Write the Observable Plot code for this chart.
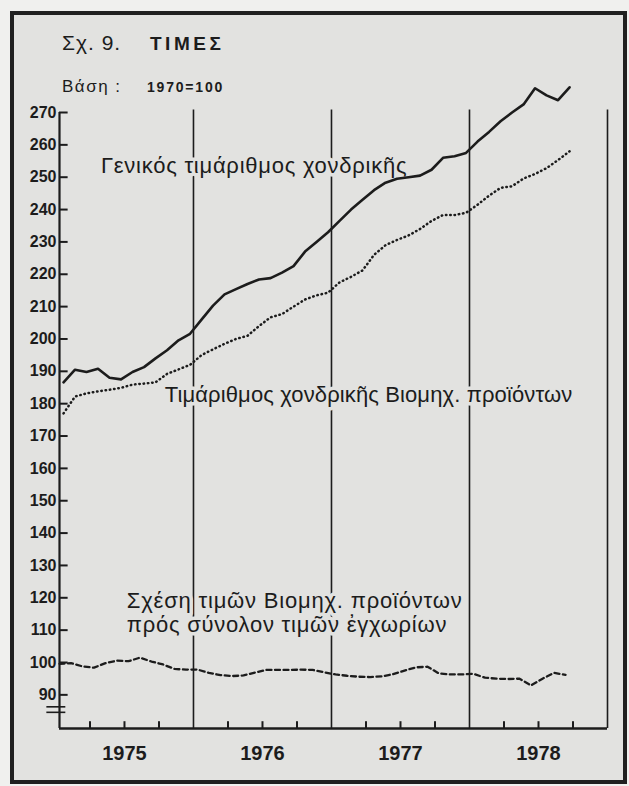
<!DOCTYPE html>
<html>
<head>
<meta charset="utf-8">
<script src="https://cdn.jsdelivr.net/npm/d3@7"></script>
<script src="https://cdn.jsdelivr.net/npm/@observablehq/plot@0.6"></script>
<style>
  html, body { margin: 0; padding: 0; background: #f0f0ee; }
  #wrap { position: relative; width: 629px; height: 786px; overflow: hidden;
          font-family: "Liberation Sans", "DejaVu Sans", sans-serif; color: #1c1c1c; }
  #frame { position: absolute; left: 10px; top: 11px; width: 609px; height: 765px;
           border: 4px solid #202020; background: #e2e2e0; }
  .t { position: absolute; white-space: nowrap; line-height: 1; }
  #chart { position: absolute; left: 0; top: 0; }
</style>
</head>
<body>
<div id="wrap">
  <div id="frame"></div>
  <div class="t" style="left:62px; top:32px; font-size:21px; letter-spacing:1px;">Σχ. 9.</div>
  <div class="t" style="left:150px; top:34px; font-size:19px; font-weight:bold; letter-spacing:3.5px;">ΤΙΜΕΣ</div>
  <div class="t" style="left:62px; top:78px; font-size:17px; letter-spacing:1.5px;">Βάση :</div>
  <div class="t" style="left:147px; top:80px; font-size:14px; font-weight:bold; letter-spacing:1.8px;">1970=100</div>
  <div id="chart"></div>
</div>
<script>
// ---- Data (monthly, Jan 1975 – Sep 1978) ----
const general = [186.6,190.5,189.8,190.8,188,187.5,189.8,191.3,194,196.5,199.6,201.6,
                 206,210.3,213.8,215.4,217,218.4,218.8,220.5,222.5,227,230,233,
                 236.5,240,243,246,248.3,249.5,250,250.5,252.3,256,256.5,257.5,
                 261,264,267.3,270,272.5,277.5,275.3,273.8,277.8];
const industrial = [177,182.2,183.2,183.8,184.3,184.9,185.9,186.2,186.6,189.2,190.6,192,
                    195,196.8,198.5,200,201,204,206.7,207.7,210,212.2,213.5,214.3,
                    217.5,219.2,221.2,226,229,230.6,232,234,236.5,238.3,238.3,239,
                    241.5,244.3,246.7,247.2,249.6,251,252.8,255.3,258];
const relation = [99.6,99.8,98.8,98.4,99.8,100.6,100.4,101.5,100.3,99.4,98.0,97.8,
                  97.8,96.8,96.1,95.8,96.0,96.9,97.7,97.7,97.7,97.8,97.7,97.0,
                  96.3,95.9,95.6,95.5,95.7,96.4,97.5,98.5,98.7,96.6,96.3,96.3,
                  96.5,95.3,95.0,94.9,95.0,92.9,95.0,96.8,96.2];
const years = ["1975", "1976", "1977", "1978"];
const yTicks = [90,100,110,120,130,140,150,160,170,180,190,200,210,220,230,240,250,260,270];
const yearBounds = [12, 24, 36, 48];
const quarterTicks = [3,6,9,15,18,21,27,30,33,39,42,45];
const labelGeneral = "Γενικός τιμάριθμος χονδρικῆς";
const labelIndustrial = "Τιμάριθμος χονδρικῆς Βιομηχ. προϊόντων";
const labelRelation1 = "Σχέση τιμῶν Βιομηχ. προϊόντων";
const labelRelation2 = "πρός σύνολον τιμῶν ἐγχωρίων";

// ---- Chart ----
const ink = "#1c1c1c";
const bg = "#e2e2e0";
const xMin = 0.35, xMax = 48;
const yMin = 79.6, yMax = 270;
const annot = {textAnchor: "start", lineAnchor: "bottom", fontSize: 22, fill: ink,
               stroke: bg, strokeWidth: 7, paintOrder: "stroke"};

const chart = Plot.plot({
  width: 629, height: 786,
  marginLeft: 59, marginRight: 22, marginTop: 112, marginBottom: 58,
  x: {domain: [xMin, xMax], axis: null},
  y: {domain: [yMin, yMax], axis: null},
  style: {background: "transparent", color: ink, overflow: "visible",
          fontFamily: "'Liberation Sans', 'DejaVu Sans', sans-serif"},
  marks: [
    Plot.ruleX(yearBounds, {x: d => d, y1: yMin, y2: 270.8, stroke: ink, strokeWidth: 1.6}),
    Plot.ruleX([xMin], {x: d => d, y1: yMin, y2: yMax, stroke: ink, strokeWidth: 2.2}),
    Plot.ruleY([yMin], {y: d => d, x1: xMin, x2: xMax, stroke: ink, strokeWidth: 2.4}),
    Plot.ruleY(yTicks, {y: d => d, x1: xMin, x2: xMin + 0.75, stroke: ink, strokeWidth: 2}),
    Plot.ruleY([86.3, 84.6], {y: d => d, x1: xMin - 1.1, x2: xMin + 0.55, stroke: ink, strokeWidth: 1.6}),
    Plot.ruleX(quarterTicks, {x: d => d, y1: yMin, y2: yMin + 2.1, stroke: ink, strokeWidth: 2}),
    Plot.text(yTicks, {x: xMin, y: d => d, text: d => String(d), textAnchor: "end", dx: -3,
                       fontWeight: "bold", fontSize: 16, fill: ink}),
    Plot.text(years, {x: (d, i) => 6 + 12 * i, y: yMin, text: d => d, dy: 31, lineAnchor: "bottom",
                      fontWeight: "bold", fontSize: 20, fill: ink}),
    Plot.text([labelGeneral], {...annot, x: 3.95, y: 251.4, text: d => d}),
    Plot.text([labelIndustrial], {...annot, x: 9.5, y: 180.4, text: d => d}),
    Plot.text([labelRelation1], {...annot, x: 6.2, y: 117.0, text: d => d}),
    Plot.text([labelRelation2], {...annot, x: 6.2, y: 109.3, text: d => d}),
    Plot.line(general, {x: (d, i) => i + 0.7, y: d => d, stroke: ink, strokeWidth: 2.6,
                        strokeLinejoin: "round", strokeLinecap: "round"}),
    Plot.line(industrial, {x: (d, i) => i + 0.7, y: d => d, stroke: ink, strokeWidth: 2.5,
                           strokeDasharray: "0.5 3.8", strokeLinecap: "round"}),
    Plot.line(relation, {x: (d, i) => i + 0.35, y: d => d, stroke: ink, strokeWidth: 2.3,
                         strokeDasharray: "5 3.5"})
  ]
});

// Letter spacing of the annotation labels (the reference type is set wide)
const spacing = new Map([[labelGeneral, "0.75px"], [labelIndustrial, "0.12px"],
                         [labelRelation1, "0.8px"], [labelRelation2, "0.75px"]]);
d3.select(chart).selectAll("text").each(function () {
  const s = spacing.get(this.textContent);
  if (s) this.style.letterSpacing = s;
});
document.getElementById("chart").appendChild(chart);
</script>
</body>
</html>
